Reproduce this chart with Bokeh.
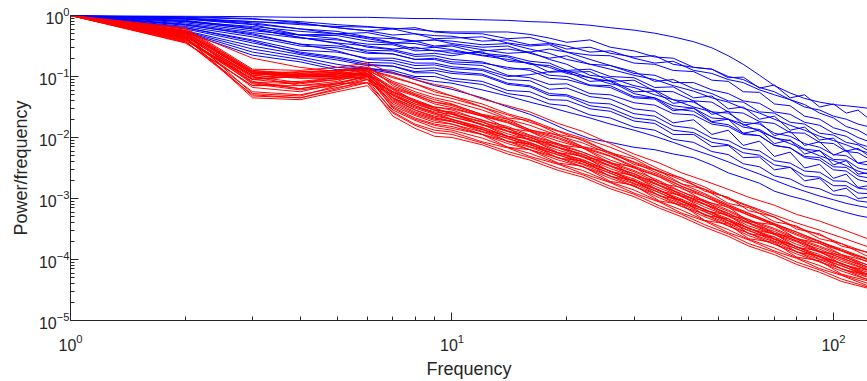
import numpy as np
from bokeh.plotting import figure
from bokeh.models import Range1d
from bokeh.embed import file_html
from bokeh.resources import INLINE

# ---- data: log10(power/frequency) for each spectrum ----
freq_blue = [1, 2, 3, 4, 5, 6, 7, 8, 9, 10, 12, 14, 16, 18, 20, 23, 26, 30, 34, 38, 43, 48,
             53, 58, 64, 70, 77, 84, 92, 100, 108, 116, 123]
freq_red = [1, 2, 3, 4, 5, 6, 7, 8, 9, 10, 12, 14, 16, 19, 22, 26, 30, 35, 40, 46, 53, 60,
            70, 80, 92, 105, 123]

b01 = [0,-0.01,-0.02,-0.03,-0.03,-0.03,-0.04,-0.05,-0.05,-0.06,-0.07,-0.08,-0.1,-0.11,-0.13,-0.16,-0.2,-0.24,-0.29,-0.35,-0.43,-0.53,-0.66,-0.8,-0.98,-1.15,-1.27,-1.36,-1.42,-1.46,-1.48,-1.5,-1.52]
b02 = [0,-0.06,-0.1,-0.15,-0.18,-0.19,-0.21,-0.23,-0.26,-0.27,-0.27,-0.27,-0.31,-0.37,-0.44,-0.40,-0.52,-0.58,-0.68,-0.70,-0.85,-0.88,-1.02,-1.01,-1.19,-1.14,-1.35,-1.3,-1.5,-1.45,-1.6,-1.55,-1.68]
b03 = [0,-0.03,-0.06,-0.1,-0.15,-0.18,-0.22,-0.2,-0.27,-0.29,-0.3,-0.38,-0.36,-0.45,-0.5,-0.6,-0.58,-0.7,-0.78,-0.75,-0.9,-0.95,-1.05,-1.1,-1.22,-1.3,-1.38,-1.5,-1.55,-1.65,-1.7,-1.78,-1.82]
b04 = [0,-0.04,-0.1,-0.13,-0.2,-0.25,-0.22,-0.3,-0.33,-0.34,-0.42,-0.4,-0.48,-0.46,-0.55,-0.52,-0.62,-0.68,-0.66,-0.8,-0.85,-0.88,-1.0,-1.05,-1.18,-1.25,-1.38,-1.46,-1.6,-1.68,-1.82,-1.88,-1.97]
b05 = [0,-0.02,-0.05,-0.12,-0.2,-0.25,-0.32,-0.3,-0.38,-0.37,-0.35,-0.45,-0.5,-0.48,-0.6,-0.65,-0.66,-0.78,-0.8,-0.9,-0.92,-1.06,-1.08,-1.25,-1.26,-1.45,-1.48,-1.65,-1.7,-1.84,-1.9,-2.0,-2.06]
b06 = [0,-0.08,-0.2,-0.32,-0.3,-0.28,-0.36,-0.42,-0.4,-0.46,-0.52,-0.5,-0.62,-0.7,-0.66,-0.8,-0.82,-0.95,-0.98,-1.1,-1.1,-1.22,-1.28,-1.4,-1.44,-1.58,-1.62,-1.75,-1.8,-1.93,-1.98,-2.1,-2.15]
b07 = [0,-0.1,-0.18,-0.26,-0.3,-0.38,-0.45,-0.42,-0.5,-0.48,-0.56,-0.62,-0.6,-0.55,-0.6,-0.72,-0.82,-0.92,-1.08,-1.05,-1.2,-1.28,-1.4,-1.42,-1.58,-1.6,-1.75,-1.78,-1.93,-1.96,-2.08,-2.12,-2.21]
b08 = [0,-0.05,-0.12,-0.22,-0.26,-0.35,-0.45,-0.46,-0.52,-0.5,-0.62,-0.66,-0.75,-0.78,-0.9,-0.88,-1.0,-1.02,-1.18,-1.17,-1.35,-1.32,-1.53,-1.5,-1.7,-1.65,-1.88,-1.83,-2.04,-2.01,-2.22,-2.18,-2.29]
b09 = [0,-0.12,-0.25,-0.32,-0.33,-0.42,-0.46,-0.55,-0.52,-0.56,-0.65,-0.68,-0.8,-0.82,-0.93,-0.92,-1.08,-1.06,-1.24,-1.25,-1.4,-1.42,-1.58,-1.6,-1.74,-1.77,-1.92,-1.93,-2.08,-2.1,-2.23,-2.25,-2.34]
b10 = [0,-0.14,-0.28,-0.37,-0.4,-0.47,-0.48,-0.58,-0.57,-0.62,-0.6,-0.75,-0.78,-0.93,-0.92,-1.08,-1.06,-1.25,-1.24,-1.44,-1.4,-1.62,-1.57,-1.8,-1.75,-1.97,-1.9,-2.13,-2.07,-2.29,-2.21,-2.42,-2.39]
b11 = [0,-0.06,-0.15,-0.32,-0.38,-0.52,-0.56,-0.64,-0.62,-0.66,-0.58,-0.55,-0.6,-0.72,-0.8,-0.98,-1.02,-1.15,-1.22,-1.38,-1.42,-1.58,-1.6,-1.75,-1.78,-1.93,-1.98,-2.1,-2.16,-2.28,-2.3,-2.42,-2.45]
b12 = [0,-0.15,-0.32,-0.47,-0.5,-0.57,-0.58,-0.67,-0.66,-0.72,-0.76,-0.88,-0.87,-0.98,-1.0,-1.14,-1.15,-1.33,-1.35,-1.48,-1.52,-1.68,-1.7,-1.83,-1.87,-2.01,-2.05,-2.19,-2.22,-2.36,-2.37,-2.5,-2.53]
b13 = [0,-0.18,-0.35,-0.5,-0.53,-0.62,-0.63,-0.72,-0.7,-0.76,-0.78,-0.85,-0.9,-1.03,-1.05,-1.15,-1.18,-1.35,-1.37,-1.56,-1.52,-1.74,-1.7,-1.93,-1.88,-2.1,-2.04,-2.27,-2.21,-2.45,-2.38,-2.6,-2.58]
b14 = [0,-0.1,-0.22,-0.36,-0.46,-0.6,-0.63,-0.72,-0.72,-0.79,-0.82,-0.98,-1.02,-1.13,-1.12,-1.28,-1.3,-1.43,-1.47,-1.61,-1.63,-1.78,-1.82,-1.95,-1.97,-2.13,-2.17,-2.31,-2.33,-2.48,-2.49,-2.63,-2.66]
b15 = [0,-0.2,-0.4,-0.57,-0.6,-0.7,-0.7,-0.78,-0.78,-0.84,-0.88,-1.0,-0.97,-0.92,-0.9,-1.02,-1.08,-1.28,-1.35,-1.53,-1.57,-1.75,-1.79,-1.93,-1.97,-2.13,-2.17,-2.33,-2.37,-2.53,-2.55,-2.69,-2.73]
b16 = [0,-0.16,-0.3,-0.47,-0.58,-0.72,-0.74,-0.82,-0.81,-0.87,-0.9,-1.05,-1.07,-1.21,-1.19,-1.33,-1.37,-1.53,-1.57,-1.76,-1.71,-1.95,-1.88,-2.13,-2.06,-2.31,-2.24,-2.5,-2.44,-2.67,-2.6,-2.82,-2.79]
b17 = [0,-0.22,-0.45,-0.6,-0.68,-0.77,-0.78,-0.87,-0.86,-0.92,-0.96,-1.11,-1.15,-1.28,-1.3,-1.43,-1.45,-1.61,-1.65,-1.81,-1.85,-2.01,-2.05,-2.18,-2.22,-2.38,-2.42,-2.55,-2.57,-2.71,-2.72,-2.83,-2.85]
b18 = [0,-0.25,-0.5,-0.64,-0.73,-0.82,-0.83,-0.92,-0.9,-0.95,-0.98,-1.13,-1.17,-1.31,-1.32,-1.48,-1.52,-1.68,-1.72,-1.88,-1.92,-2.08,-2.12,-2.25,-2.29,-2.45,-2.49,-2.63,-2.65,-2.79,-2.79,-2.91,-2.92]
b19 = [0,-0.2,-0.42,-0.62,-0.7,-0.8,-0.83,-0.94,-0.94,-1.03,-1.08,-1.23,-1.25,-1.38,-1.39,-1.53,-1.57,-1.73,-1.77,-1.95,-1.95,-2.15,-2.13,-2.33,-2.32,-2.53,-2.49,-2.71,-2.67,-2.88,-2.83,-3.0,-2.98]
b20 = [0,-0.26,-0.55,-0.68,-0.8,-0.87,-0.9,-1.0,-1.0,-1.07,-1.13,-1.28,-1.33,-1.45,-1.48,-1.63,-1.68,-1.83,-1.88,-2.03,-2.08,-2.23,-2.28,-2.43,-2.48,-2.63,-2.68,-2.8,-2.84,-2.94,-2.96,-3.04,-3.06]
b21 = [0,-0.27,-0.6,-0.72,-0.85,-0.88,-0.95,-1.02,-1.08,-1.11,-1.22,-1.32,-1.42,-1.5,-1.58,-1.68,-1.78,-1.88,-1.98,-2.08,-2.2,-2.3,-2.4,-2.5,-2.6,-2.7,-2.8,-2.88,-2.96,-3.02,-3.08,-3.12,-3.15]
b22 = [0,-0.28,-0.65,-0.76,-0.89,-0.86,-0.93,-1.05,-1.15,-1.21,-1.35,-1.5,-1.62,-1.75,-1.88,-2.02,-2.08,-2.16,-2.2,-2.27,-2.33,-2.45,-2.58,-2.66,-2.75,-2.88,-2.96,-3.02,-3.1,-3.17,-3.23,-3.28,-3.31]
b23 = [0,-0.09,-0.22,-0.36,-0.45,-0.5,-0.55,-0.52,-0.58,-0.58,-0.66,-0.72,-0.78,-0.85,-0.95,-1.02,-1.12,-1.18,-1.3,-1.38,-1.5,-1.58,-1.7,-1.78,-1.9,-2.0,-2.1,-2.2,-2.3,-2.38,-2.46,-2.55,-2.6]
b24 = [0,-0.05,-0.14,-0.22,-0.3,-0.36,-0.38,-0.42,-0.4,-0.42,-0.48,-0.46,-0.55,-0.62,-0.72,-0.8,-0.88,-0.98,-1.05,-1.15,-1.24,-1.35,-1.42,-1.52,-1.6,-1.7,-1.8,-1.88,-1.98,-2.05,-2.12,-2.2,-2.25]

r01 = [0,-0.2,-0.88,-0.9,-0.85,-0.78,-0.95,-1.05,-1.13,-1.18,-1.37,-1.48,-1.58,-1.77,-1.9,-2.1,-2.27,-2.42,-2.58,-2.71,-2.85,-2.98,-3.11,-3.26,-3.37,-3.5,-3.66]
r02 = [0,-0.25,-0.7,-0.85,-0.92,-0.88,-1.0,-1.12,-1.25,-1.32,-1.5,-1.63,-1.75,-1.9,-2.05,-2.25,-2.4,-2.55,-2.7,-2.85,-2.99,-3.12,-3.27,-3.4,-3.52,-3.64,-3.79]
r03 = [0,-0.30,-0.95,-0.92,-0.90,-0.88,-1.02,-1.12,-1.22,-1.32,-1.45,-1.61,-1.71,-1.89,-2.01,-2.16,-2.32,-2.52,-2.67,-2.81,-3.01,-3.13,-3.31,-3.47,-3.60,-3.74,-3.89]
r04 = [0,-0.28,-0.92,-0.97,-0.93,-0.85,-1.08,-1.2,-1.3,-1.36,-1.5,-1.68,-1.72,-1.95,-2.03,-2.25,-2.35,-2.57,-2.66,-2.88,-2.98,-3.2,-3.3,-3.5,-3.58,-3.78,-3.88]
r05 = [0,-0.38,-1.05,-1.12,-1.05,-0.9,-1.1,-1.25,-1.35,-1.41,-1.55,-1.70,-1.80,-1.97,-2.09,-2.27,-2.41,-2.60,-2.76,-2.92,-3.10,-3.24,-3.41,-3.55,-3.70,-3.85,-4.00]
r06 = [0,-0.22,-0.9,-0.95,-0.9,-0.82,-1.15,-1.3,-1.42,-1.46,-1.62,-1.7,-1.88,-1.96,-2.15,-2.24,-2.44,-2.55,-2.76,-2.85,-3.08,-3.15,-3.38,-3.45,-3.66,-3.74,-3.95]
r07 = [0,-0.35,-1.0,-1.15,-1.08,-0.92,-1.18,-1.3,-1.42,-1.48,-1.64,-1.75,-1.89,-2.02,-2.17,-2.31,-2.49,-2.64,-2.80,-2.97,-3.12,-3.28,-3.42,-3.58,-3.71,-3.86,-4.00]
r08 = [0,-0.3,-1.1,-1.08,-1.02,-0.96,-1.2,-1.32,-1.45,-1.51,-1.65,-1.76,-1.90,-2.06,-2.17,-2.37,-2.50,-2.65,-2.84,-2.97,-3.15,-3.27,-3.44,-3.60,-3.74,-3.86,-4.04]
r09 = [0,-0.42,-1.3,-1.35,-1.2,-1.05,-1.25,-1.38,-1.5,-1.53,-1.65,-1.85,-1.9,-2.12,-2.17,-2.42,-2.48,-2.75,-2.82,-3.05,-3.14,-3.38,-3.43,-3.66,-3.73,-3.92,-4.03]
r10 = [0,-0.33,-0.98,-0.93,-0.9,-0.9,-1.22,-1.4,-1.5,-1.55,-1.72,-1.82,-1.96,-2.10,-2.24,-2.41,-2.54,-2.71,-2.89,-3.03,-3.19,-3.35,-3.49,-3.65,-3.78,-3.92,-4.09]
r11 = [0,-0.27,-0.93,-1.0,-0.98,-0.92,-1.3,-1.45,-1.55,-1.58,-1.71,-1.86,-1.97,-2.13,-2.24,-2.43,-2.56,-2.75,-2.89,-3.06,-3.21,-3.37,-3.51,-3.67,-3.80,-3.95,-4.09]
r12 = [0,-0.4,-1.1,-1.2,-1.12,-0.98,-1.28,-1.45,-1.55,-1.59,-1.8,-1.84,-2.05,-2.1,-2.32,-2.4,-2.64,-2.72,-2.96,-3.04,-3.28,-3.34,-3.57,-3.65,-3.87,-3.93,-4.13]
r13 = [0,-0.36,-1.32,-1.35,-1.22,-1.1,-1.3,-1.48,-1.58,-1.62,-1.75,-1.90,-2.00,-2.17,-2.28,-2.47,-2.60,-2.79,-2.93,-3.10,-3.25,-3.40,-3.57,-3.69,-3.86,-3.97,-4.15]
r14 = [0,-0.31,-1.0,-1.1,-1.02,-0.95,-1.2,-1.4,-1.52,-1.62,-1.79,-1.90,-2.04,-2.17,-2.32,-2.47,-2.64,-2.79,-2.97,-3.10,-3.29,-3.41,-3.59,-3.71,-3.88,-4.00,-4.17]
r15 = [0,-0.29,-0.96,-0.98,-0.96,-0.9,-1.25,-1.42,-1.55,-1.66,-1.79,-1.94,-2.04,-2.21,-2.32,-2.51,-2.64,-2.83,-2.97,-3.14,-3.29,-3.45,-3.59,-3.75,-3.88,-4.03,-4.17]
r16 = [0,-0.44,-1.15,-1.1,-1.05,-1.0,-1.35,-1.5,-1.6,-1.66,-1.78,-1.98,-2.02,-2.25,-2.3,-2.56,-2.62,-2.88,-2.95,-3.2,-3.27,-3.5,-3.58,-3.8,-3.86,-4.08,-4.18]
r17 = [0,-0.34,-1.02,-0.95,-0.93,-0.97,-1.32,-1.48,-1.6,-1.70,-1.83,-1.98,-2.08,-2.25,-2.36,-2.55,-2.68,-2.87,-3.01,-3.18,-3.33,-3.49,-3.63,-3.79,-3.92,-4.07,-4.21]
r18 = [0,-0.25,-0.92,-1.0,-1.0,-0.95,-1.38,-1.55,-1.65,-1.70,-1.87,-1.98,-2.12,-2.25,-2.40,-2.55,-2.72,-2.87,-3.05,-3.18,-3.37,-3.49,-3.67,-3.79,-3.96,-4.07,-4.25]
r19 = [0,-0.38,-1.08,-1.2,-1.1,-1.0,-1.4,-1.58,-1.68,-1.74,-1.87,-2.02,-2.12,-2.29,-2.40,-2.59,-2.72,-2.91,-3.05,-3.22,-3.37,-3.53,-3.67,-3.83,-3.96,-4.11,-4.25]
r20 = [0,-0.3,-1.28,-1.32,-1.15,-1.05,-1.42,-1.6,-1.7,-1.74,-1.86,-2.07,-2.1,-2.34,-2.38,-2.64,-2.7,-2.96,-3.02,-3.28,-3.33,-3.58,-3.63,-3.88,-3.94,-4.16,-4.25]
r21 = [0,-0.41,-1.05,-0.98,-0.95,-0.99,-1.45,-1.62,-1.72,-1.78,-1.91,-2.06,-2.16,-2.33,-2.44,-2.63,-2.76,-2.95,-3.09,-3.26,-3.41,-3.57,-3.71,-3.87,-4.00,-4.15,-4.29]
r22 = [0,-0.32,-0.98,-1.03,-1.02,-0.98,-1.48,-1.64,-1.75,-1.78,-1.95,-2.06,-2.20,-2.33,-2.48,-2.63,-2.80,-2.95,-3.13,-3.26,-3.45,-3.57,-3.75,-3.87,-4.04,-4.15,-4.33]
r23 = [0,-0.36,-1.12,-1.22,-1.15,-1.02,-1.5,-1.68,-1.78,-1.82,-1.95,-2.10,-2.20,-2.37,-2.48,-2.67,-2.80,-2.99,-3.13,-3.30,-3.45,-3.61,-3.75,-3.91,-4.04,-4.19,-4.33]
r24 = [0,-0.27,-0.95,-1.02,-1.03,-1.0,-1.52,-1.7,-1.8,-1.85,-1.95,-2.16,-2.2,-2.42,-2.47,-2.72,-2.78,-3.04,-3.1,-3.36,-3.42,-3.66,-3.72,-3.96,-4.02,-4.24,-4.35]
r25 = [0,-0.43,-1.25,-1.3,-1.18,-1.1,-1.55,-1.72,-1.84,-1.88,-2.01,-2.16,-2.26,-2.43,-2.54,-2.73,-2.86,-3.05,-3.19,-3.36,-3.51,-3.67,-3.81,-3.97,-4.10,-4.25,-4.39]
r26 = [0,-0.39,-1.04,-1.0,-0.97,-1.05,-1.58,-1.78,-1.88,-1.91,-2.07,-2.17,-2.31,-2.44,-2.59,-2.74,-2.91,-3.06,-3.24,-3.37,-3.56,-3.68,-3.86,-3.98,-4.15,-4.26,-4.43]
r27 = [0,-0.35,-1.35,-1.38,-1.25,-1.15,-1.6,-1.8,-1.92,-1.95,-2.09,-2.23,-2.33,-2.50,-2.61,-2.80,-2.93,-3.12,-3.26,-3.43,-3.58,-3.74,-3.88,-4.04,-4.17,-4.32,-4.45]
r28 = [0,-0.45,-1.15,-1.15,-1.12,-1.1,-1.65,-1.85,-1.98,-2.00,-2.12,-2.27,-2.37,-2.54,-2.65,-2.84,-2.97,-3.16,-3.30,-3.47,-3.62,-3.78,-3.92,-4.08,-4.21,-4.36,-4.47]
r29 = [0,-0.24,-0.9,-0.98,-0.96,-0.88,-1.12,-1.28,-1.38,-1.45,-1.63,-1.73,-1.87,-2.00,-2.15,-2.30,-2.47,-2.62,-2.80,-2.94,-3.12,-3.25,-3.42,-3.55,-3.71,-3.83,-3.99]
r30 = [0,-0.37,-1.18,-1.25,-1.12,-1.0,-1.35,-1.52,-1.62,-1.71,-1.84,-1.99,-2.09,-2.26,-2.37,-2.55,-2.71,-2.86,-3.04,-3.18,-3.36,-3.48,-3.66,-3.79,-3.95,-4.06,-4.24]
r31 = [0,-0.28,-0.94,-1.0,-0.99,-0.94,-1.36,-1.55,-1.67,-1.73,-1.90,-2.01,-2.15,-2.28,-2.43,-2.58,-2.75,-2.90,-3.08,-3.21,-3.40,-3.52,-3.70,-3.82,-3.99,-4.10,-4.28]
r32 = [0,-0.33,-1.05,-1.0,-0.95,-0.96,-1.26,-1.42,-1.52,-1.61,-1.74,-1.89,-1.99,-2.16,-2.27,-2.46,-2.59,-2.78,-2.92,-3.09,-3.24,-3.40,-3.54,-3.70,-3.83,-3.98,-4.12]

blue_series = [b01, b02, b03, b04, b05, b06, b07, b08, b09, b10, b11, b12,
               b13, b14, b15, b16, b17, b18, b19, b20, b21, b22, b23, b24]
red_series = [r01, r02, r03, r04, r05, r06, r07, r08, r09, r10, r11, r12, r13, r14, r15, r16,
              r17, r18, r19, r20, r21, r22, r23, r24, r25, r26, r27, r28, r29, r30, r31, r32]


def to_xy(freqs, series):
    xs, ys = [], []
    for s in series:
        pairs = list(zip(freqs, s))
        xs.append([f for f, _ in pairs])
        ys.append([10.0 ** v for _, v in pairs])
    return xs, ys


bx, by = to_xy(freq_blue, blue_series)
rx, ry = to_xy(freq_red, red_series)

p = figure(width=867, height=381, x_axis_type="log", y_axis_type="log",
           x_range=Range1d(1, 122.8), y_range=Range1d(1e-5, 1),
           output_backend="svg", toolbar_location=None,
           min_border_left=70, min_border_right=0, min_border_top=15, min_border_bottom=56)

p.multi_line(xs=bx, ys=by, line_color="#0000ff", line_width=1)
p.multi_line(xs=rx, ys=ry, line_color="#ff0000", line_width=1)

p.xgrid.visible = False
p.ygrid.visible = False
p.outline_line_color = None
p.background_fill_color = "white"
p.border_fill_color = "white"

axcol = "#262626"
for ax in (p.xaxis[0], p.yaxis[0]):
    ax.axis_line_color = axcol
    ax.axis_line_width = 1
    ax.major_tick_line_color = axcol
    ax.minor_tick_line_color = axcol
    ax.major_tick_in = 8
    ax.major_tick_out = 0
    ax.minor_tick_in = 4
    ax.minor_tick_out = 0
    ax.major_label_text_font = "Liberation Sans"
    ax.major_label_text_font_size = "16px"
    ax.major_label_text_color = axcol
    ax.axis_label_text_font = "Liberation Sans"
    ax.axis_label_text_font_size = "18px"
    ax.axis_label_text_font_style = "normal"
    ax.axis_label_text_color = axcol

p.xaxis.axis_label = "Frequency"
p.yaxis.axis_label = "Power/frequency"
p.xaxis.major_label_standoff = 13
p.yaxis.major_label_standoff = 1
p.xaxis.axis_label_standoff = 5
p.yaxis.axis_label_standoff = 5

open("out.html", "w").write(file_html(p, INLINE))
